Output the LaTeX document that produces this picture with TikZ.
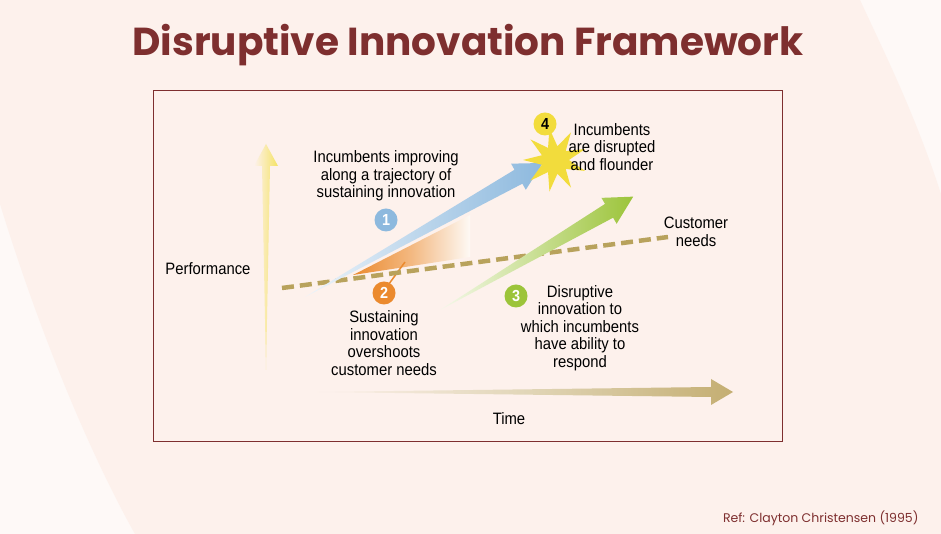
\documentclass[tikz,border=0pt]{standalone}
\usepackage{fontspec}
\setmainfont{Poppins}
\newfontfamily\narrow[FakeStretch=0.9]{Liberation Sans}
\usetikzlibrary{shapes.geometric}
\definecolor{bgpink}{HTML}{FDF1EC}
\definecolor{boxpink}{HTML}{FDF1EC}
\definecolor{darkred}{HTML}{7E2F2F}
\definecolor{tblue}{HTML}{8DB9DE}
\definecolor{torange}{HTML}{EB8A2E}
\definecolor{tgreen}{HTML}{9CC43A}
\definecolor{tyellow}{HTML}{F2DC3C}
\definecolor{ttan}{HTML}{C4AE72}
\definecolor{tdash}{HTML}{B8A25C}
\tikzset{
  lbl/.style={font=\narrow\fontsize{16.5}{17.5}\selectfont, align=center, text=black, inner sep=0pt},
  num/.style={circle, minimum size=23pt, inner sep=0pt, font=\narrow\bfseries\fontsize{16}{16}\selectfont, text=white},
}
% arrow: length, shaft half width at head, head half width, head length
\newcommand{\taparrow}[4]{(0,0) -- (#1-#4,#2) -- (#1-#4,#3) -- (#1,0) -- (#1-#4,-#3) -- (#1-#4,-#2) -- cycle}
\begin{document}
\begin{tikzpicture}[x=1pt,y=1pt]
\useasboundingbox (0,0) rectangle (941,534);
\fill[white!60!bgpink] (0,0) rectangle (941,534);
\fill[bgpink] (0,330) .. controls (40,200) and (90,80) .. (135,0) -- (941,0) -- (941,340) .. controls (915,420) and (885,480) .. (860,534) -- (0,534) -- cycle;
\node[font=\bfseries\fontsize{39}{42}\selectfont, text=darkred] (title) at (468,489) {Disruptive Innovation Framework};
\draw[darkred, fill=boxpink, line width=0.8pt] (153,93) rectangle (782,444);
% performance axis
\begin{scope}[shift={(266,164)}, rotate=90]
\shade[left color=boxpink, right color=tyellow!80] \taparrow{226}{4}{12}{22};
\end{scope}
\node[lbl] (perf) at (208,265) {Performance};
% time axis
\begin{scope}[shift={(315,142)}]
\shade[left color=boxpink, right color=ttan, middle color=ttan!50] \taparrow{418}{5}{13}{22};
\end{scope}
\node[lbl] (time) at (509,115) {Time};
% orange region
\shade[left color=torange, right color=torange!5, middle color=torange!60] (353,259) -- (470,319) -- (470,277) -- cycle;
\draw[torange, line width=1.5pt] (405,272) -- (386,246);
% dashed needs line
\draw[tdash, line width=4.5pt, dash pattern=on 12pt off 6pt] (282,246) -- (668,297);
% blue arrow
\begin{scope}[shift={(305,237)}, rotate=29.4]
\shade[left color=tblue!15, right color=tblue, middle color=tblue!60] \taparrow{273}{8}{15}{28};
\end{scope}
% green arrow
\begin{scope}[shift={(440,224)}, rotate=30.4]
\shade[left color=tgreen!10, right color=tgreen, middle color=tgreen!55] \taparrow{224}{8}{15}{28};
\end{scope}
% star
\node[star, star points=9, star point ratio=2.3, fill=tyellow, minimum size=64pt, inner sep=0pt, rotate=10] (star) at (555,374) {};
% circles
\node[num, fill=tblue] (n1) at (386,314) {1};
\node[num, fill=torange] (n2) at (384,241) {2};
\node[num, fill=tgreen] (n3) at (516,238) {3};
\node[num, fill=tyellow, text=black] (n4) at (545,410) {4};
% labels
\node[lbl] (l1) at (386,358) {Incumbents improving\\along a trajectory of\\sustaining innovation};
\node[lbl] (l2) at (384,191) {Sustaining\\innovation\\overshoots\\customer needs};
\node[lbl] (l3) at (580,206) {Disruptive\\innovation to\\which incumbents\\have ability to\\respond};
\node[lbl] (l4) at (612,387) {Incumbents\\are disrupted\\and flounder};
\node[lbl] (l5) at (696,302) {Customer\\needs};
\node[font=\fontsize{12.5}{14}\selectfont, text=darkred, anchor=east] (ref) at (922,16) {Ref: Clayton Christensen (1995)};
\end{tikzpicture}
\end{document}
